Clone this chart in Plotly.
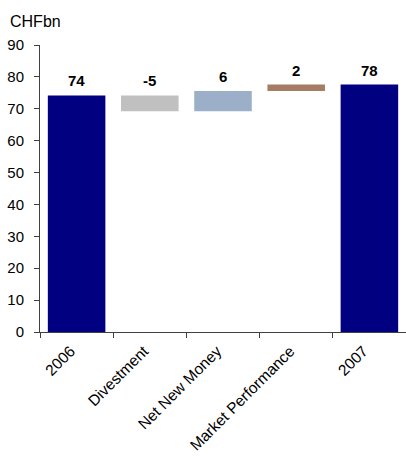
import plotly.graph_objects as go

# Asset bridge 2006 -> 2007 (CHF bn)
categories = ["2006", "Divestment", "Net New Money", "Market Performance", "2007"]
values = [74.2, -5.0, 6.4, 2.0, 77.6]
kinds = ["total", "relative", "relative", "relative", "total"]
colors = ["#000080", "#C0C0C0", "#9BB0C8", "#A67C64", "#000080"]

# Floating-bar bases from the running total
bases, heights = [], []
running = 0.0
for v, k in zip(values, kinds):
    if k == "total":
        bases.append(0.0)
        heights.append(v)
        running = v
    else:
        bases.append(running)
        heights.append(v)
        running += v

fig = go.Figure(
    go.Bar(
        x=categories,
        y=heights,
        base=bases,
        marker=dict(color=colors, line=dict(width=0)),
        hoverinfo="skip",
    )
)

annotations = []
for i, (b, h) in enumerate(zip(bases, heights)):
    top = max(b, b + h)
    annotations.append(dict(
        x=i, y=top, xref="x", yref="y",
        text=f"{h:.0f}", showarrow=False,
        yanchor="bottom", yshift=4,
        font=dict(family="Liberation Sans, Arial", size=15, color="#000000", weight="bold"),
    ))
annotations.append(dict(
    x=0, y=1, xref="paper", yref="paper", xanchor="left", yanchor="bottom",
    xshift=-32, yshift=13, text="CHFbn", showarrow=False,
    font=dict(family="Liberation Sans, Arial", size=16, color="#000000"),
))

fig.update_layout(
    width=406, height=457,
    margin=dict(l=40, r=0, t=45, b=125),
    paper_bgcolor="white", plot_bgcolor="white",
    bargap=0.214,
    showlegend=False,
    font=dict(family="Liberation Sans, Arial", size=15, color="#000000"),
    annotations=annotations,
)
fig.update_xaxes(
    type="category", range=[-0.5, len(categories) - 0.5],
    tickangle=-45, tickson="boundaries", automargin=False,
    ticks="outside", ticklen=5, tickcolor="#404040",
    showline=True, linecolor="#404040", linewidth=1,
    showgrid=False, tickfont=dict(size=15.5),
    ticklabelshift=-6, ticklabelstandoff=3,
)
fig.update_yaxes(
    range=[0, 90], dtick=10, tick0=0, automargin=False,
    ticks="outside", ticklen=5, tickcolor="#404040",
    showline=True, linecolor="#404040", linewidth=1,
    showgrid=False, zeroline=False, tickfont=dict(size=15),
    ticklabelstandoff=7,
)

fig.write_html("out.html")
